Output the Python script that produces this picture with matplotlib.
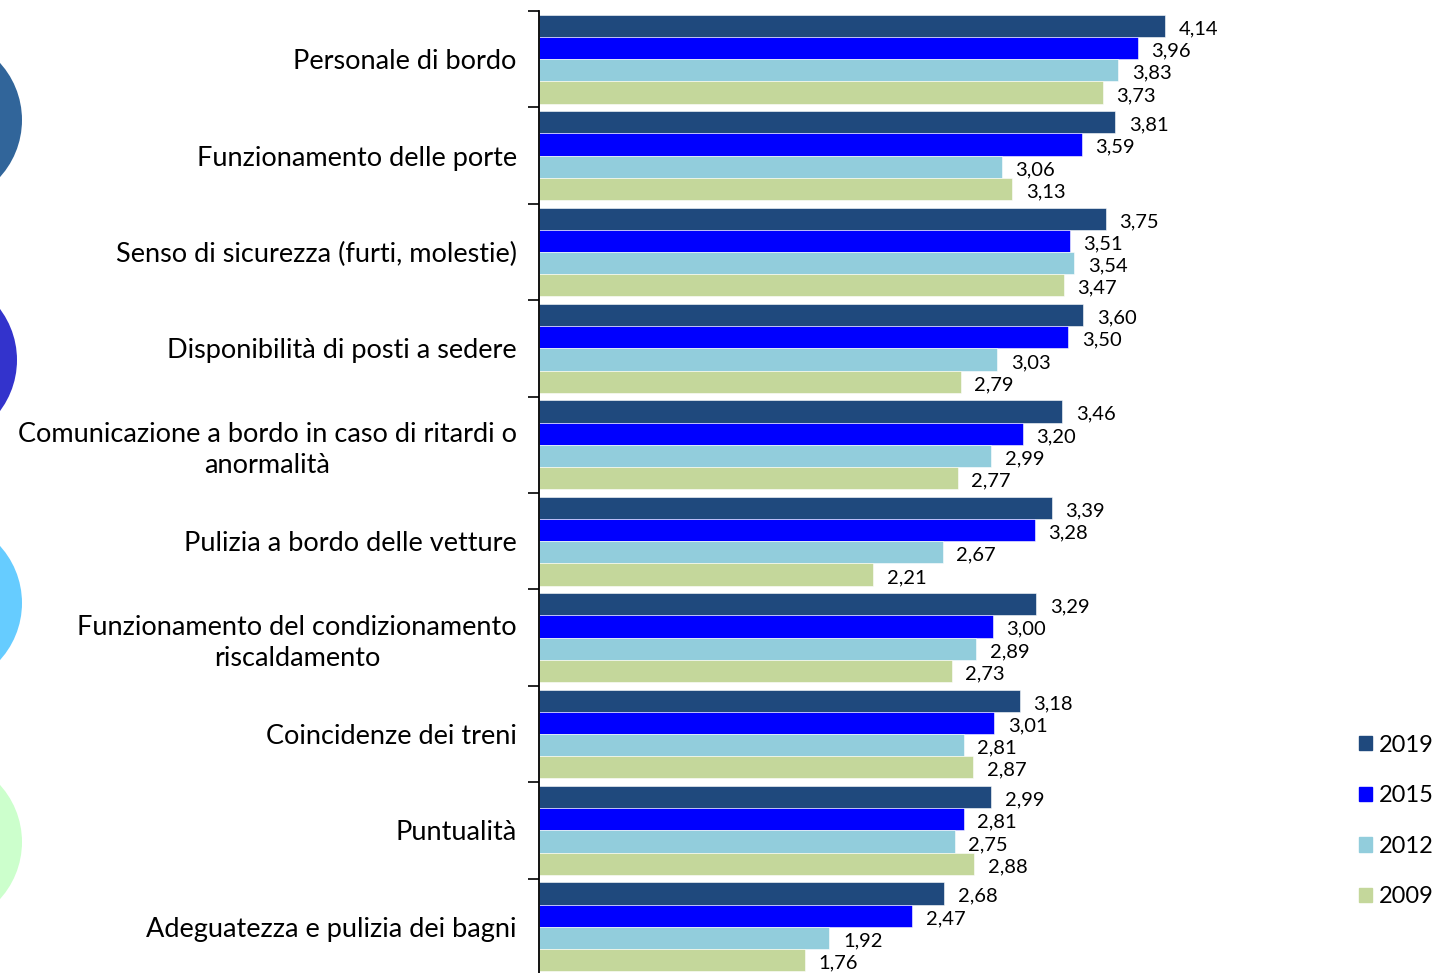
import numpy as np
import matplotlib
matplotlib.use("Agg")
import matplotlib.pyplot as plt
from matplotlib.patches import Circle, Patch

categories = [
    "Personale di bordo",
    "Funzionamento delle porte",
    "Senso di sicurezza (furti, molestie)",
    "Disponibilità di posti a sedere",
    "Comunicazione a bordo in caso di ritardi o\nanormalità",
    "Pulizia a bordo delle vetture",
    "Funzionamento del condizionamento\nriscaldamento",
    "Coincidenze dei treni",
    "Puntualità",
    "Adeguatezza e pulizia dei bagni",
]
years = ["2019", "2015", "2012", "2009"]
v2019 = [4.14, 3.81, 3.75, 3.60, 3.46, 3.39, 3.29, 3.18, 2.99, 2.68]
v2015 = [3.96, 3.59, 3.51, 3.50, 3.20, 3.28, 3.00, 3.01, 2.81, 2.47]
v2012 = [3.83, 3.06, 3.54, 3.03, 2.99, 2.67, 2.89, 2.81, 2.75, 1.92]
v2009 = [3.73, 3.13, 3.47, 2.79, 2.77, 2.21, 2.73, 2.87, 2.88, 1.76]
series = [v2019, v2015, v2012, v2009]
colors = ["#1F497D", "#0000FF", "#92CDDC", "#C4D79B"]

plt.rcParams['font.family'] = ['Lato', 'DejaVu Sans']

W, H = 1438, 973
fig = plt.figure(figsize=(W / 100, H / 100), dpi=100)

# decorative circles on the left edge
bg = fig.add_axes([0, 0, 1, 1], zorder=0)
bg.set_xlim(0, W)
bg.set_ylim(H, 0)
bg.axis('off')
for cx, cy, c in [(-63, 120, "#31659A"), (-68, 360, "#3333CC"),
                  (-63, 603, "#66CCFF"), (-63, 842, "#CCFFCC")]:
    bg.add_patch(Circle((cx, cy), 85, color=c, lw=0))

ax = fig.add_axes([539 / W, -2 / H, 800 / W, 964 / H], zorder=1)
ax.patch.set_alpha(0)

n = len(categories)
bh = 0.2308
y = np.arange(n)
for i, (vals, col) in enumerate(zip(series, colors)):
    pos = y - 1.5 * bh + i * bh
    ax.barh(pos, vals, height=bh, color=col, edgecolor="white", linewidth=0.4)
    for p, v in zip(pos, vals):
        ax.text(v + 0.09, p + 0.03, f"{v:.2f}".replace(".", ","),
                va='center', ha='left', fontsize=14.5)

ax.set_ylim(n - 0.5, -0.5)
ax.set_xlim(0, 800 / 151.2)
ax.set_yticks(y)
ax.set_yticklabels(categories, fontsize=19.5, multialignment='center',
                   linespacing=1.3)
ax.tick_params(axis='y', which='major', length=0, pad=16)
ax.set_yticks(np.arange(-0.5, n, 1), minor=True)
ax.tick_params(axis='y', which='minor', length=8, width=1.2, direction='out')
ax.set_xticks([])
for s in ['top', 'right', 'bottom']:
    ax.spines[s].set_visible(False)
ax.spines['left'].set_linewidth(1.3)

handles = [Patch(color=c, label=yr) for c, yr in zip(colors, years)]
fig.legend(handles=handles, loc='center left', bbox_to_anchor=(1359 / W, 1 - 821 / H),
           frameon=False, fontsize=17, handlelength=0.55, handleheight=0.55,
           handletextpad=0.3, labelspacing=1.25, borderaxespad=0, borderpad=0)

fig.savefig("out.png", dpi=100)
